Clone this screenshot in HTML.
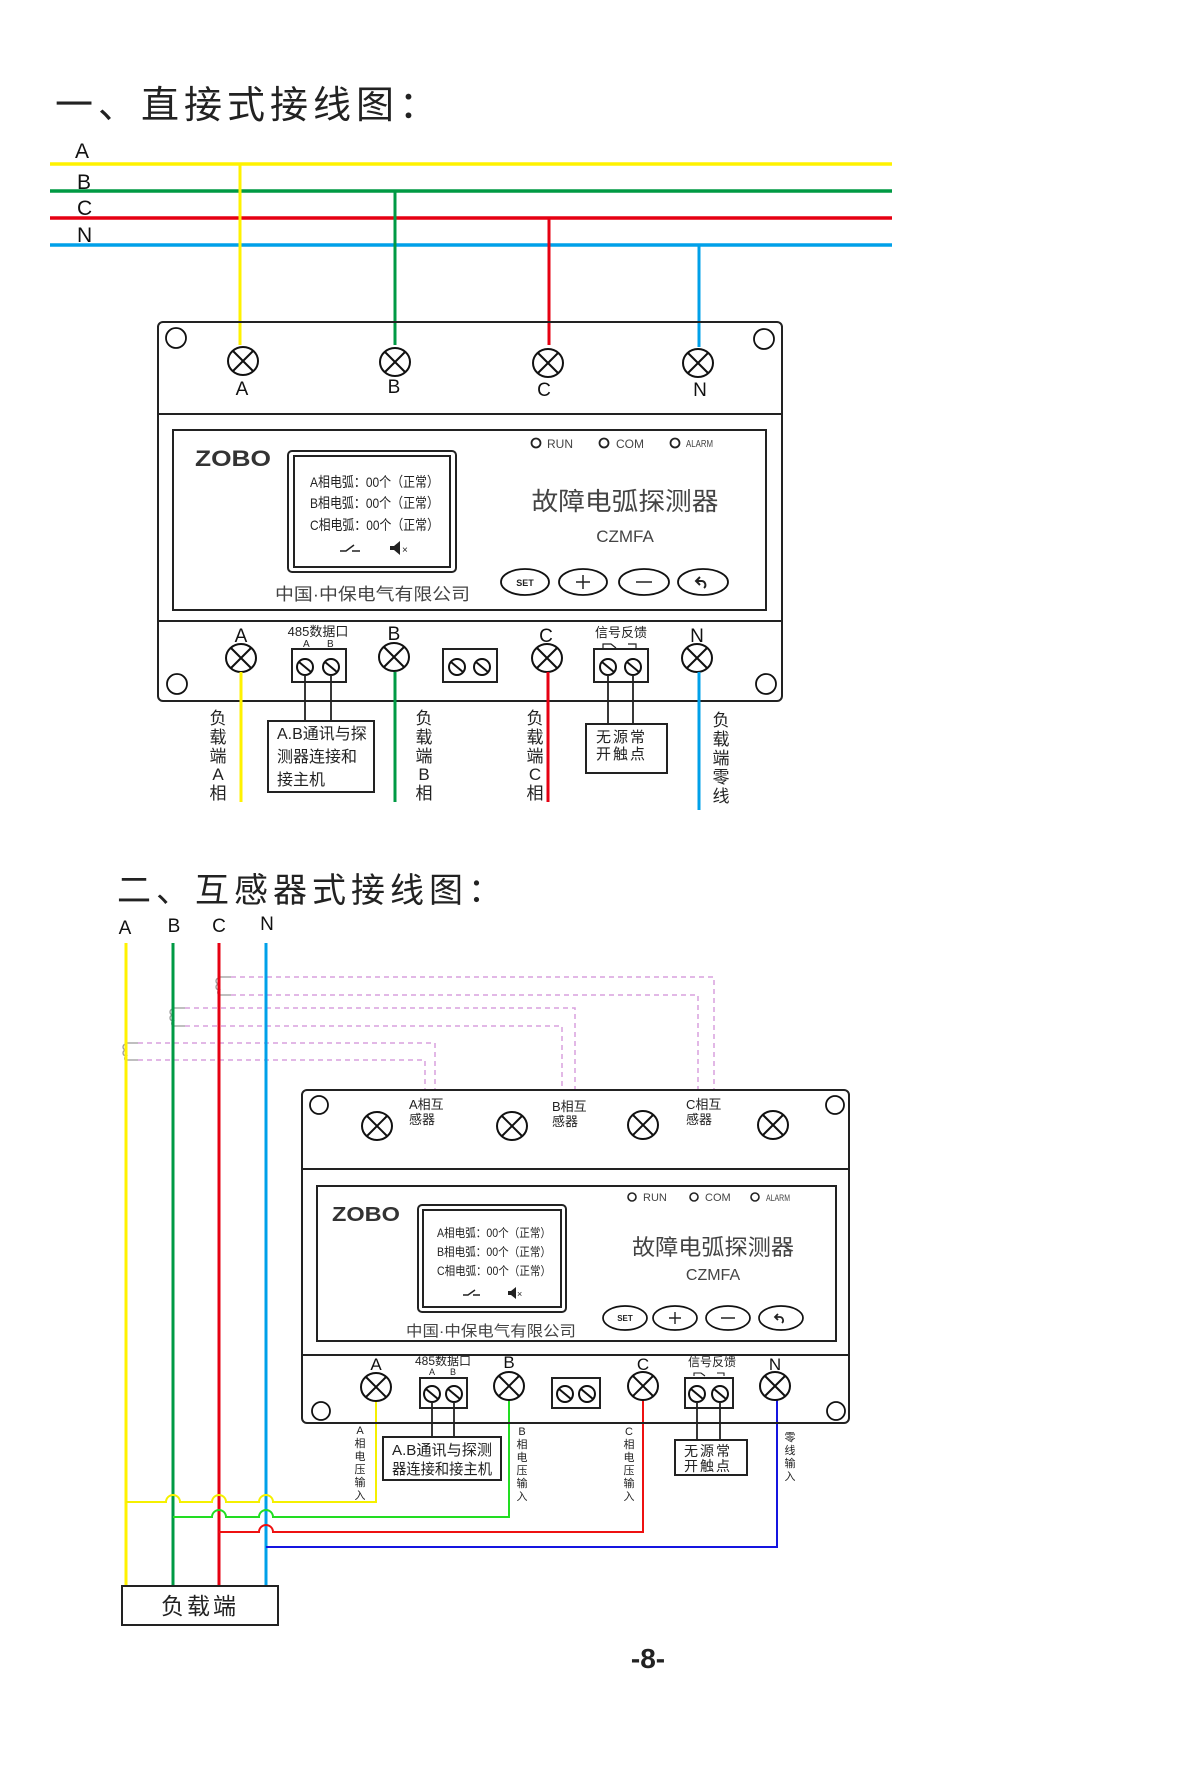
<!DOCTYPE html>
<html><head><meta charset="utf-8"><style>
html,body{margin:0;padding:0;background:#fff}
svg{display:block}
text{font-family:"Liberation Sans","Noto Sans CJK SC",sans-serif}
</style></head><body>
<svg width="1200" height="1789" viewBox="0 0 1200 1789" xmlns="http://www.w3.org/2000/svg">
<defs>
<g id="tx"><ellipse cx="0" cy="0" rx="15" ry="14" fill="#fff" stroke="#111" stroke-width="2"/><line x1="-10" y1="-10" x2="10" y2="10" stroke="#111" stroke-width="2"/><line x1="10" y1="-10" x2="-10" y2="10" stroke="#111" stroke-width="2"/></g>
<g id="sc"><circle cx="0" cy="0" r="8" fill="#fff" stroke="#111" stroke-width="2"/><line x1="-6" y1="-5" x2="6" y2="5" stroke="#111" stroke-width="2"/></g>
</defs>

<text x="55" y="118" font-size="38" fill="#222" letter-spacing="5">一、直接式接线图：</text>

<g font-size="21" fill="#111">
<text x="75" y="158">A</text><text x="77" y="189">B</text><text x="77" y="215">C</text><text x="77" y="242">N</text>
</g>
<line x1="50" y1="164" x2="892" y2="164" stroke="#fff200" stroke-width="3.5"/>
<line x1="50" y1="191" x2="892" y2="191" stroke="#009a44" stroke-width="3.5"/>
<line x1="50" y1="218" x2="892" y2="218" stroke="#e60012" stroke-width="3.5"/>
<line x1="50" y1="245" x2="892" y2="245" stroke="#00a0e9" stroke-width="3.5"/>
<line x1="240" y1="164" x2="240" y2="345" stroke="#fff200" stroke-width="3"/>
<line x1="395" y1="191" x2="395" y2="345" stroke="#009a44" stroke-width="3"/>
<line x1="549" y1="218" x2="549" y2="345" stroke="#e60012" stroke-width="3"/>
<line x1="699" y1="245" x2="699" y2="347" stroke="#00a0e9" stroke-width="3"/>

<rect x="158" y="322" width="624" height="379" rx="5" fill="none" stroke="#222" stroke-width="2"/>
<line x1="158" y1="414" x2="782" y2="414" stroke="#222" stroke-width="2"/>
<line x1="158" y1="621" x2="782" y2="621" stroke="#222" stroke-width="2"/>
<circle cx="176" cy="338" r="10" fill="none" stroke="#111" stroke-width="1.8"/>
<circle cx="764" cy="339" r="10" fill="none" stroke="#111" stroke-width="1.8"/>
<circle cx="177" cy="684" r="10" fill="none" stroke="#111" stroke-width="1.8"/>
<circle cx="766" cy="684" r="10" fill="none" stroke="#111" stroke-width="1.8"/>
<use href="#tx" x="243" y="361"/><use href="#tx" x="395" y="362"/><use href="#tx" x="548" y="363"/><use href="#tx" x="698" y="363"/>
<g font-size="19" fill="#111" text-anchor="middle">
<text x="242" y="395">A</text><text x="394" y="393">B</text><text x="544" y="396">C</text><text x="700" y="396">N</text>
</g>
<rect x="173" y="430" width="593" height="180" fill="none" stroke="#222" stroke-width="2"/>
<text x="195" y="466" font-size="22" font-weight="bold" fill="#333" textLength="76" lengthAdjust="spacingAndGlyphs">ZOBO</text>
<rect x="288" y="451" width="168" height="121" rx="4" fill="none" stroke="#222" stroke-width="2"/>
<rect x="294" y="456" width="156" height="111" fill="none" stroke="#222" stroke-width="2"/>
<g font-size="14" fill="#222">
<text x="310" y="487" textLength="129" lengthAdjust="spacingAndGlyphs">A相电弧：00个（正常）</text>
<text x="310" y="508" textLength="129" lengthAdjust="spacingAndGlyphs">B相电弧：00个（正常）</text>
<text x="310" y="530" textLength="129" lengthAdjust="spacingAndGlyphs">C相电弧：00个（正常）</text>
</g>
<path d="M340 551 h6 l8 -6 M352 551 h8" stroke="#222" stroke-width="1.5" fill="none"/>
<path d="M390 546 h4 l6 -5 v14 l-6 -5 h-4 z" fill="#222"/><text x="402" y="553" font-size="10" fill="#222">×</text>
<text x="275" y="600" font-size="17" fill="#444" textLength="195" lengthAdjust="spacingAndGlyphs">中国·中保电气有限公司</text>
<g fill="none" stroke="#222" stroke-width="1.8"><circle cx="536" cy="443" r="4.5"/><circle cx="604" cy="443" r="4.5"/><circle cx="675" cy="443" r="4.5"/></g>
<g font-size="12" fill="#444"><text x="547" y="448">RUN</text><text x="616" y="448">COM</text><text x="686" y="447" font-size="10" textLength="27" lengthAdjust="spacingAndGlyphs">ALARM</text></g>
<text x="625" y="510" font-size="25" fill="#444" text-anchor="middle" textLength="187" lengthAdjust="spacingAndGlyphs">故障电弧探测器</text>
<text x="625" y="542" font-size="17" fill="#444" text-anchor="middle">CZMFA</text>
<g fill="#fff" stroke="#111" stroke-width="1.8">
<ellipse cx="525" cy="582" rx="24" ry="13"/><ellipse cx="583" cy="582" rx="24" ry="13"/><ellipse cx="644" cy="582" rx="25" ry="13"/><ellipse cx="703" cy="582" rx="25" ry="13"/>
</g>
<text x="525" y="586" font-size="9" font-weight="bold" fill="#222" text-anchor="middle">SET</text>
<path d="M576 582h14M583 575v14M636 582h16" stroke="#222" stroke-width="1.5"/>
<path d="M700 577 l-4 4 4 4 M696 581 h6 a4 4 0 0 1 2 7" stroke="#222" stroke-width="2" fill="none"/>

<g font-size="19" fill="#111" text-anchor="middle">
<text x="241" y="642">A</text><text x="394" y="640">B</text><text x="546" y="642">C</text><text x="697" y="642">N</text>
</g>
<text x="318" y="636" font-size="13" fill="#222" text-anchor="middle">485数据口</text>
<text x="303" y="647" font-size="10" fill="#222">A</text><text x="327" y="647" font-size="10" fill="#222">B</text>
<text x="621" y="637" font-size="13" fill="#222" text-anchor="middle">信号反馈</text>
<path d="M603 648v-4h8l5 4M628 644h8v4" stroke="#222" stroke-width="1.2" fill="none"/>
<use href="#tx" x="241" y="658"/><use href="#tx" x="394" y="657"/><use href="#tx" x="547" y="658"/><use href="#tx" x="697" y="658"/>
<rect x="292" y="649" width="54" height="33" fill="#fff" stroke="#222" stroke-width="2"/>
<use href="#sc" x="305" y="667"/><use href="#sc" x="331" y="667"/>
<rect x="443" y="649" width="54" height="33" fill="#fff" stroke="#222" stroke-width="2"/>
<use href="#sc" x="457" y="667"/><use href="#sc" x="482" y="667"/>
<rect x="594" y="649" width="54" height="33" fill="#fff" stroke="#222" stroke-width="2"/>
<use href="#sc" x="608" y="667"/><use href="#sc" x="633" y="667"/>
<line x1="241" y1="672" x2="241" y2="802" stroke="#fff200" stroke-width="3"/>
<line x1="395" y1="672" x2="395" y2="802" stroke="#009a44" stroke-width="3"/>
<line x1="548" y1="672" x2="548" y2="802" stroke="#e60012" stroke-width="3"/>
<line x1="699" y1="672" x2="699" y2="810" stroke="#00a0e9" stroke-width="3"/>
<path d="M305 675V721M331 675V721M608 675V724M633 675V724" stroke="#222" stroke-width="1.8"/>
<rect x="268" y="721" width="106" height="71" fill="#fff" stroke="#222" stroke-width="2"/>
<g font-size="16" fill="#222"><text x="277" y="739">A.B通讯与探</text><text x="277" y="762">测器连接和</text><text x="277" y="785">接主机</text></g>
<rect x="586" y="724" width="81" height="49" fill="#fff" stroke="#222" stroke-width="2"/>
<g font-size="15" fill="#222" letter-spacing="2"><text x="596" y="742">无源常</text><text x="596" y="759">开触点</text></g>
<g font-size="17" fill="#222" text-anchor="middle">
<text x="218" y="724">负</text><text x="218" y="743">载</text><text x="218" y="762">端</text><text x="218" y="780">A</text><text x="218" y="799">相</text>
<text x="424" y="724">负</text><text x="424" y="743">载</text><text x="424" y="762">端</text><text x="424" y="780">B</text><text x="424" y="799">相</text>
<text x="535" y="724">负</text><text x="535" y="743">载</text><text x="535" y="762">端</text><text x="535" y="780">C</text><text x="535" y="799">相</text>
<text x="721" y="726">负</text><text x="721" y="745">载</text><text x="721" y="764">端</text><text x="721" y="783">零</text><text x="721" y="802">线</text>
</g>

<text x="117" y="902" font-size="34" fill="#222" letter-spacing="5">二、互感器式接线图：</text>
<g font-size="19" fill="#111" text-anchor="middle">
<text x="125" y="934">A</text><text x="174" y="932">B</text><text x="219" y="932">C</text><text x="267" y="930">N</text>
</g>

<g stroke="#d9a0dd" stroke-width="1.5" stroke-dasharray="5,4" fill="none">
<path d="M231 977H714V1090"/><path d="M231 995H698V1090"/>
<path d="M185 1008H575V1090"/><path d="M185 1026H562V1090"/>
<path d="M138 1043H435V1090"/><path d="M138 1060H425V1090"/>
</g>
<g stroke="#999" stroke-width="1.3" fill="none">
<path d="M219 977h12M219 995h12M173 1008h12M173 1026h12M126 1043h12M126 1060h12"/>
<path d="M219 978a3 3 0 0 0 0 6a3 3 0 0 0 0 6a3 3 0 0 0 0 5"/>
<path d="M173 1009a3 3 0 0 0 0 6a3 3 0 0 0 0 6a3 3 0 0 0 0 5"/>
<path d="M126 1044a3 3 0 0 0 0 6a3 3 0 0 0 0 6a3 3 0 0 0 0 5"/>
</g>

<line x1="126" y1="943" x2="126" y2="1586" stroke="#fff200" stroke-width="3"/>
<line x1="173" y1="943" x2="173" y2="1586" stroke="#009a44" stroke-width="3"/>
<line x1="219" y1="943" x2="219" y2="1586" stroke="#e60012" stroke-width="3"/>
<line x1="266" y1="943" x2="266" y2="1586" stroke="#00a0e9" stroke-width="3"/>

<g fill="none" stroke-width="2">
<path d="M376 1400V1502H273a7 7 0 0 0 -14 0H226a7 7 0 0 0 -14 0H180a7 7 0 0 0 -14 0H126" stroke="#f5f000"/>
<path d="M509 1400V1517H273a7 7 0 0 0 -14 0H226a7 7 0 0 0 -14 0H173" stroke="#22dd22"/>
<path d="M643 1400V1532H273a7 7 0 0 0 -14 0H219" stroke="#ee1111"/>
<path d="M777 1400V1547H266" stroke="#1515e0"/>
</g>

<rect x="122" y="1586" width="156" height="39" fill="#fff" stroke="#222" stroke-width="2"/>
<text x="200" y="1614" font-size="23" fill="#222" text-anchor="middle" letter-spacing="3">负载端</text>

<rect x="302" y="1090" width="547" height="333" rx="5" fill="none" stroke="#222" stroke-width="2"/>
<line x1="302" y1="1169" x2="849" y2="1169" stroke="#222" stroke-width="2"/>
<line x1="302" y1="1355" x2="849" y2="1355" stroke="#222" stroke-width="2"/>
<circle cx="319" cy="1105" r="9" fill="none" stroke="#111" stroke-width="1.8"/>
<circle cx="835" cy="1105" r="9" fill="none" stroke="#111" stroke-width="1.8"/>
<circle cx="321" cy="1411" r="9" fill="none" stroke="#111" stroke-width="1.8"/>
<circle cx="836" cy="1411" r="9" fill="none" stroke="#111" stroke-width="1.8"/>
<use href="#tx" x="377" y="1126"/><use href="#tx" x="512" y="1126"/><use href="#tx" x="643" y="1125"/><use href="#tx" x="773" y="1125"/>
<g font-size="13" fill="#222">
<text x="409" y="1109">A相互</text><text x="409" y="1124">感器</text>
<text x="552" y="1111">B相互</text><text x="552" y="1126">感器</text>
<text x="686" y="1109">C相互</text><text x="686" y="1124">感器</text>
</g>
<rect x="317" y="1186" width="519" height="155" fill="none" stroke="#222" stroke-width="2"/>
<text x="332" y="1221" font-size="20" font-weight="bold" fill="#333" textLength="68" lengthAdjust="spacingAndGlyphs">ZOBO</text>
<rect x="418" y="1205" width="148" height="107" rx="4" fill="none" stroke="#222" stroke-width="2"/>
<rect x="423" y="1210" width="138" height="97" fill="none" stroke="#222" stroke-width="2"/>
<g font-size="12" fill="#222">
<text x="437" y="1237" textLength="114" lengthAdjust="spacingAndGlyphs">A相电弧：00个（正常）</text>
<text x="437" y="1256" textLength="114" lengthAdjust="spacingAndGlyphs">B相电弧：00个（正常）</text>
<text x="437" y="1275" textLength="114" lengthAdjust="spacingAndGlyphs">C相电弧：00个（正常）</text>
</g>
<path d="M463 1295 h5 l7 -5 M473 1295 h7" stroke="#222" stroke-width="1.4" fill="none"/>
<path d="M508 1291 h3 l5 -4 v12 l-5 -4 h-3 z" fill="#222"/><text x="517" y="1297" font-size="9" fill="#222">×</text>
<text x="406" y="1336" font-size="15" fill="#444" textLength="170" lengthAdjust="spacingAndGlyphs">中国·中保电气有限公司</text>
<g fill="none" stroke="#222" stroke-width="1.6"><circle cx="632" cy="1197" r="4"/><circle cx="694" cy="1197" r="4"/><circle cx="755" cy="1197" r="4"/></g>
<g font-size="11" fill="#444"><text x="643" y="1201">RUN</text><text x="705" y="1201">COM</text><text x="766" y="1201" font-size="9" textLength="24" lengthAdjust="spacingAndGlyphs">ALARM</text></g>
<text x="713" y="1255" font-size="22" fill="#444" text-anchor="middle" textLength="162" lengthAdjust="spacingAndGlyphs">故障电弧探测器</text>
<text x="713" y="1280" font-size="16" fill="#444" text-anchor="middle">CZMFA</text>
<g fill="#fff" stroke="#111" stroke-width="1.7">
<ellipse cx="625" cy="1318" rx="22" ry="12"/><ellipse cx="675" cy="1318" rx="22" ry="12"/><ellipse cx="728" cy="1318" rx="22" ry="12"/><ellipse cx="781" cy="1318" rx="22" ry="12"/>
</g>
<text x="625" y="1321" font-size="8" font-weight="bold" fill="#222" text-anchor="middle">SET</text>
<path d="M669 1318h12M675 1312v12M721 1318h14" stroke="#222" stroke-width="1.4"/>
<path d="M778 1314 l-3 3 3 3 M775 1317 h5 a3.5 3.5 0 0 1 2 6" stroke="#222" stroke-width="1.8" fill="none"/>

<g font-size="17" fill="#111" text-anchor="middle">
<text x="376" y="1370">A</text><text x="509" y="1368">B</text><text x="643" y="1370">C</text><text x="775" y="1370">N</text>
</g>
<text x="443" y="1365" font-size="12" fill="#222" text-anchor="middle">485数据口</text>
<text x="429" y="1375" font-size="9" fill="#222">A</text><text x="450" y="1375" font-size="9" fill="#222">B</text>
<text x="712" y="1366" font-size="12" fill="#222" text-anchor="middle">信号反馈</text>
<path d="M694 1376v-3h7l4 3M717 1373h7v3" stroke="#222" stroke-width="1.1" fill="none"/>
<use href="#tx" x="376" y="1387"/><use href="#tx" x="509" y="1386"/><use href="#tx" x="643" y="1386"/><use href="#tx" x="775" y="1386"/>
<rect x="420" y="1378" width="47" height="30" fill="#fff" stroke="#222" stroke-width="2"/>
<use href="#sc" x="432" y="1394"/><use href="#sc" x="454" y="1394"/>
<rect x="552" y="1378" width="48" height="30" fill="#fff" stroke="#222" stroke-width="2"/>
<use href="#sc" x="565" y="1394"/><use href="#sc" x="587" y="1394"/>
<rect x="685" y="1378" width="48" height="30" fill="#fff" stroke="#222" stroke-width="2"/>
<use href="#sc" x="697" y="1394"/><use href="#sc" x="720" y="1394"/>
<path d="M432 1402V1437M454 1402V1437M697 1402V1440M720 1402V1440" stroke="#222" stroke-width="1.8"/>
<rect x="383" y="1437" width="118" height="43" fill="#fff" stroke="#222" stroke-width="2"/>
<g font-size="15" fill="#222"><text x="392" y="1455" textLength="100" lengthAdjust="spacingAndGlyphs">A.B通讯与探测</text><text x="392" y="1474" textLength="100" lengthAdjust="spacingAndGlyphs">器连接和接主机</text></g>
<rect x="675" y="1440" width="72" height="35" fill="#fff" stroke="#222" stroke-width="2"/>
<g font-size="14" fill="#222" letter-spacing="2"><text x="684" y="1456">无源常</text><text x="684" y="1471">开触点</text></g>
<g font-size="11" fill="#222" text-anchor="middle">
<text x="360" y="1434">A</text><text x="360" y="1447">相</text><text x="360" y="1460">电</text><text x="360" y="1473">压</text><text x="360" y="1486">输</text><text x="360" y="1499">入</text>
<text x="522" y="1435">B</text><text x="522" y="1448">相</text><text x="522" y="1461">电</text><text x="522" y="1474">压</text><text x="522" y="1487">输</text><text x="522" y="1500">入</text>
<text x="629" y="1435">C</text><text x="629" y="1448">相</text><text x="629" y="1461">电</text><text x="629" y="1474">压</text><text x="629" y="1487">输</text><text x="629" y="1500">入</text>
<text x="790" y="1441">零</text><text x="790" y="1454">线</text><text x="790" y="1467">输</text><text x="790" y="1480">入</text>
</g>

<text x="648" y="1668" font-size="28" font-weight="bold" fill="#222" text-anchor="middle">-8-</text>
</svg>
</body></html>
